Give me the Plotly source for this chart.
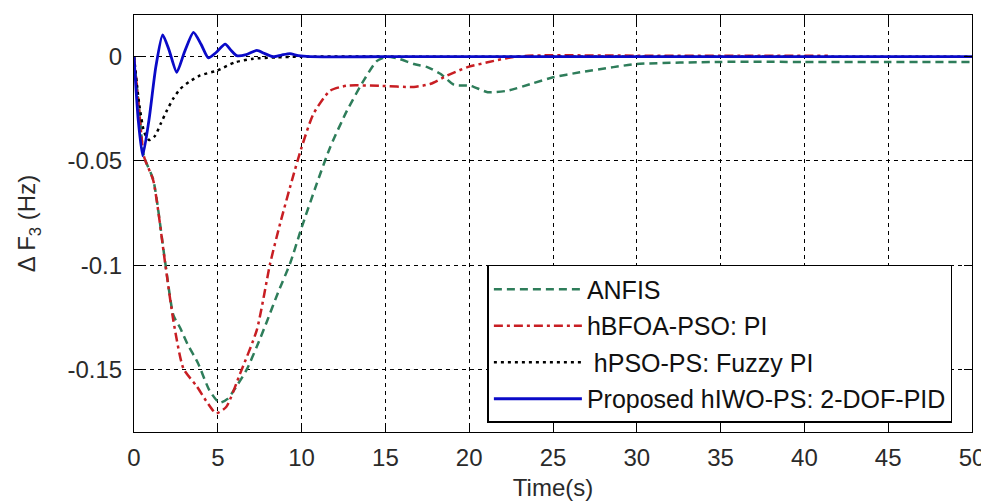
import plotly.graph_objects as go

# ---------------- data ----------------
t_anfis = [0, 0.3, 0.6, 1.15, 1.85, 2.35, 2.75, 3.2, 3.82, 4.5, 5.1, 5.6, 6.2, 6.73,
           7.33, 7.93, 8.6, 9.32, 10.0, 10.9, 11.7, 12.7, 13.7, 14.5, 15.1, 15.8,
           16.7, 17.5, 18.3, 19.1, 20.1, 21.1, 22.3, 23.7, 25.0, 26.6, 28.6, 30,
           35, 40, 45, 50]
v_anfis = [0, -0.025, -0.048, -0.059, -0.098, -0.124, -0.130, -0.138, -0.147, -0.160,
           -0.166, -0.164, -0.157, -0.150, -0.139, -0.127, -0.113, -0.099, -0.082,
           -0.061, -0.0435, -0.026, -0.0115, -0.002, 0.0, -0.001, -0.0035, -0.005,
           -0.0083, -0.0135, -0.014, -0.017, -0.0163, -0.013, -0.0099, -0.0075,
           -0.005, -0.0035, -0.0025, -0.0025, -0.0025, -0.0025]

t_bfoa = [0, 0.3, 0.6, 1.15, 1.85, 2.35, 2.95, 3.74, 4.3, 4.9, 5.5, 6.33, 7.33, 8.12,
          8.72, 9.42, 10.0, 10.7, 11.7, 12.7, 14.7, 16.7, 17.7, 18.7, 19.9, 21.1,
          22.3, 23.5, 30, 35, 41.4]
v_bfoa = [0, -0.025, -0.048, -0.0594, -0.0986, -0.1266, -0.1496, -0.158, -0.165,
          -0.171, -0.168, -0.152, -0.131, -0.0993, -0.080, -0.0594, -0.0435, -0.0275,
          -0.0163, -0.0139, -0.014, -0.0145, -0.013, -0.009, -0.005, -0.0027, -0.0006,
          0.0005, 0.0005, 0.0005, 0.0005]

t_pso = [0, 0.3, 0.6, 0.9, 1.25, 1.6, 1.95, 2.35, 2.75, 3.3, 3.94, 4.94, 6.03, 7.1,
         8.5, 10, 20, 30, 40, 50]
v_pso = [0, -0.022, -0.036, -0.040, -0.038, -0.032, -0.026, -0.020, -0.0155, -0.012,
         -0.009, -0.0067, -0.0027, -0.001, -0.0003, 0, 0, 0, 0, 0]

t_iwo = [0, 0.25, 0.52, 0.9, 1.3, 1.71, 2.1, 2.55, 3.0, 3.55, 4.0, 4.44, 4.9, 5.44,
         5.8, 6.13, 6.7, 7.33, 7.8, 8.3, 8.8, 9.3, 9.8, 10.5, 15, 20, 30, 40, 50]
v_iwo = [0, -0.03, -0.0475, -0.03, -0.005, 0.0105, 0.003, -0.0075, 0.002, 0.0117,
         0.006, -0.0006, 0.002, 0.006, 0.003, 0.0005, 0.001, 0.003, 0.0015, 0.0,
         0.0008, 0.0015, 0.0005, 0, 0, 0, 0, 0, 0]

names = ["ANFIS", "hBFOA-PSO: PI", " hPSO-PS: Fuzzy PI", "Proposed hIWO-PS: 2-DOF-PID"]

x_ticks = [0, 5, 10, 15, 20, 25, 30, 35, 40, 45, 50]
y_ticks = [0, -0.05, -0.1, -0.15]
y_tick_labels = ["0", "-0.05", "-0.1", "-0.15"]

# ---------------- figure ----------------
FONT = "Liberation Sans, Arial, sans-serif"
TXT = "#2a2a2a"
fig = go.Figure()

styles = [
    dict(color="rgb(46,125,90)", dash="8px,5px", width=2.5),
    dict(color="rgb(200,30,35)", dash="9px,4px,3px,4px", width=2.5),
    dict(color="black", dash="3px,4px", width=2.5),
    dict(color="rgb(10,10,200)", dash="solid", width=2.8),
]
series = [(t_anfis, v_anfis), (t_bfoa, v_bfoa), (t_pso, v_pso), (t_iwo, v_iwo)]

for i, ((tx, vy), nm, st) in enumerate(zip(series, names, styles)):
    fig.add_trace(go.Scatter(
        x=tx, y=vy, mode="lines", name=nm, legendgroup=f"g{i}",
        line=dict(color=st["color"], dash=st["dash"], width=st["width"],
                  shape="spline", smoothing=0.6),
    ))

axis_common = dict(
    showline=True, linecolor="black", linewidth=1.2, mirror="ticks",
    ticks="inside", ticklen=8, tickcolor="black", automargin=False,
    showgrid=True, gridcolor="black", gridwidth=1, griddash="4px,4px",
    zeroline=False, tickfont=dict(family=FONT, size=24, color=TXT),
)

fig.update_xaxes(range=[0, 50], tickvals=x_ticks, **axis_common,
                 ticklabelstandoff=4,
                 title=dict(text="Time(s)", font=dict(family=FONT, size=24, color=TXT),
                            standoff=14))
fig.update_yaxes(range=[-0.18, 0.02], tickvals=y_ticks, ticktext=y_tick_labels,
                 **axis_common, ticklabelstandoff=6,
                 title=dict(text="Δ F<sub>3</sub> (Hz)",
                            font=dict(family=FONT, size=24, color=TXT),
                            standoff=24))

# the page body has an 8px margin: shift the figure so the plot area lands where
# the reference has it (x 134..972, y 15..432 in the window)
fig.update_layout(
    width=981, height=493,
    margin=dict(l=126, r=17, t=7, b=69),
    paper_bgcolor="white", plot_bgcolor="white",
    font=dict(family=FONT, size=24, color=TXT),
    showlegend=True,
    legend=dict(
        x=0.4217, y=0.4005, xanchor="left", yanchor="top",
        bgcolor="white", bordercolor="black", borderwidth=1.5,
        font=dict(family=FONT, size=25, color="#111"),
        traceorder="grouped", tracegroupgap=1,
        itemwidth=88,
    ),
)

fig.write_html("out.html")
